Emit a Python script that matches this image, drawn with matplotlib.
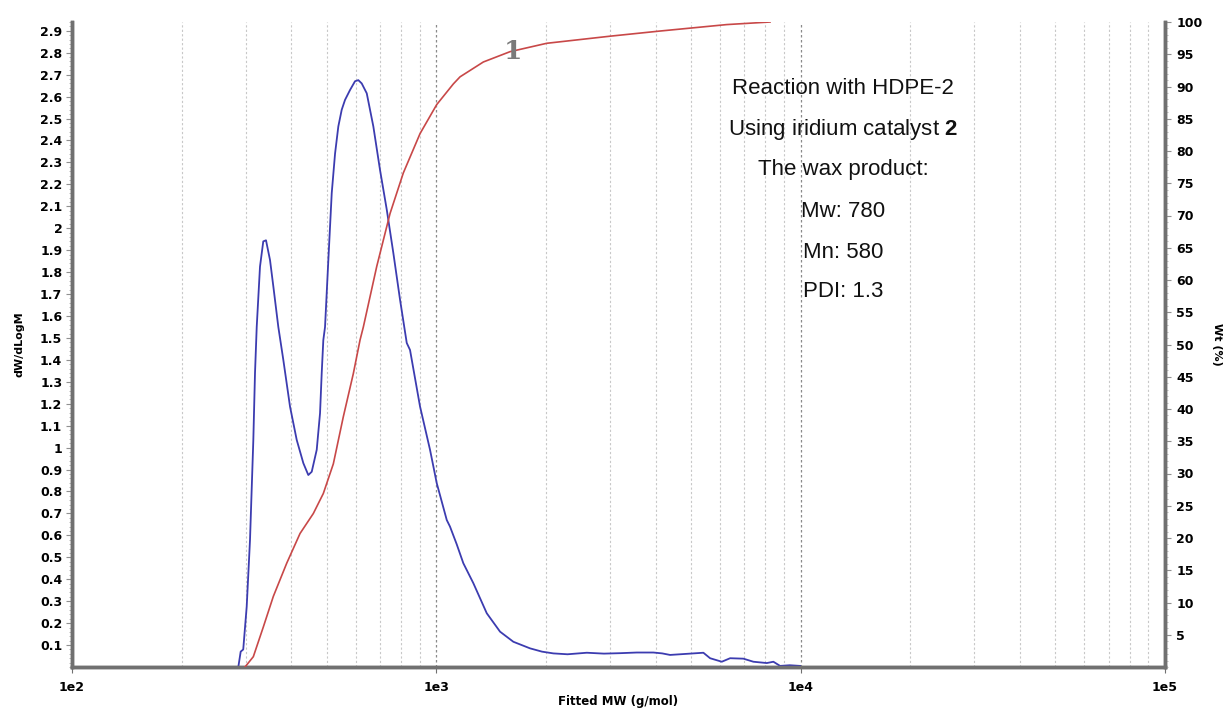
import numpy as np
import matplotlib
matplotlib.use("Agg")
import matplotlib.pyplot as plt
from matplotlib.ticker import FixedLocator, MultipleLocator, NullLocator

plt.rcParams["mathtext.fontset"] = "custom"
plt.rcParams["mathtext.rm"] = "Liberation Sans"
plt.rcParams["mathtext.bf"] = "Liberation Sans:bold"

# Molecular-weight distribution (dW/dLogM) versus log10(MW)
dist_logm = [2.4565, 2.463, 2.470, 2.4795, 2.4886, 2.4977, 2.5023, 2.507, 2.516, 2.525,
             2.5325, 2.5435, 2.5526, 2.5663, 2.580, 2.5984, 2.6168, 2.635, 2.6486, 2.658,
             2.6717, 2.6808, 2.6854, 2.6898, 2.6945, 2.7036, 2.7129, 2.722, 2.731, 2.7403,
             2.7494, 2.7631, 2.7768, 2.7859, 2.7952, 2.809, 2.8271, 2.8455, 2.8639, 2.882,
             2.9004, 2.9188, 2.9278, 2.9553, 2.9827, 3.0011, 3.0286, 3.0375, 3.0558, 3.0741,
             3.1016, 3.1384, 3.1749, 3.2114, 3.2572, 3.2900, 3.3212, 3.3600, 3.4129, 3.4600,
             3.5043, 3.5500, 3.5957, 3.6200, 3.6415, 3.6874, 3.7330, 3.7514, 3.7835, 3.8063,
             3.8428, 3.8702, 3.9070, 3.9251, 3.9435, 3.9700, 3.9984]
dist_vals = [0.0, 0.07, 0.08, 0.275, 0.58, 1.035, 1.34, 1.55, 1.825, 1.94,
             1.945, 1.855, 1.735, 1.55, 1.40, 1.187, 1.035, 0.929, 0.875, 0.89,
             0.99, 1.157, 1.34, 1.49, 1.55, 1.855, 2.16, 2.34, 2.464, 2.54,
             2.585, 2.63, 2.67, 2.675, 2.66, 2.615, 2.464, 2.265, 2.085, 1.887,
             1.674, 1.477, 1.445, 1.187, 0.99, 0.838, 0.67, 0.64, 0.56, 0.473,
             0.382, 0.245, 0.161, 0.115, 0.085, 0.07, 0.062, 0.058, 0.065, 0.061,
             0.063, 0.066, 0.066, 0.062, 0.055, 0.06, 0.065, 0.04, 0.024, 0.04,
             0.038, 0.024, 0.018, 0.024, 0.005, 0.008, 0.005]

# Cumulative weight fraction (%) versus log10(MW)
cum_logm = [2.4749, 2.4977, 2.5251, 2.5526, 2.5894, 2.6259, 2.6624, 2.6898, 2.7173, 2.7447,
            2.7722, 2.7906, 2.7996, 2.8364, 2.8729, 2.9094, 2.9553, 3.0011, 3.0467, 3.0651,
            3.1290, 3.2023, 3.3031, 3.4768, 3.6141, 3.7972, 3.9160]
cum_vals = [0.0, 1.6, 6.2, 10.95, 16.1, 20.7, 23.8, 26.9, 31.5, 38.8,
            45.5, 50.7, 52.7, 62.1, 70.3, 76.6, 82.7, 87.2, 90.4, 91.5,
            93.8, 95.4, 96.7, 97.8, 98.6, 99.6, 100.0]

left_ticks = [round(0.1 * i, 1) for i in range(1, 30)]
left_labels = [f"{v:g}" for v in left_ticks]
right_ticks = list(range(5, 101, 5))
x_ticks = [1e2, 1e3, 1e4, 1e5]
x_labels = ["1e2", "1e3", "1e4", "1e5"]

info_lines = ["Reaction with HDPE-2",
              r"Using iridium catalyst $\mathbf{2}$",
              "The wax product:",
              "Mw: 780",
              "Mn: 580",
              "PDI: 1.3"]

W, H = 1229, 713
fig = plt.figure(figsize=(W / 100, H / 100), dpi=100)
ax = fig.add_axes([72 / W, 46 / H, (1165 - 72) / W, (667 - 22) / H])
ax2 = ax.twinx()

spine_col = "#707070"
tick_font = dict(family="DejaVu Sans", weight="bold", size=9)

ax.set_xscale("log")
ax.set_xlim(1e2, 1e5)
ax.set_ylim(0, 2.94)
ax2.set_ylim(0, 100)

# vertical grid lines at every log step
for dec in (1e2, 1e3, 1e4):
    for k in range(2, 10):
        ax.axvline(k * dec, color="#c8c8c8", lw=0.8, ls=(0, (2, 2)), zorder=0)
for dec in (1e3, 1e4):
    ax.axvline(dec, color="#8a8a8a", lw=0.9, ls=(0, (2, 2)), zorder=0)

ax.plot(10 ** np.array(dist_logm), dist_vals, color="#3c3cb0", lw=1.3, zorder=3)
ax2.plot(10 ** np.array(cum_logm), cum_vals, color="#c84848", lw=1.2, zorder=3)

# axes styling
for a in (ax, ax2):
    a.spines["top"].set_visible(False)
    for s in ("left", "right", "bottom"):
        a.spines[s].set_color(spine_col)
        a.spines[s].set_linewidth(2.5)

ax.xaxis.set_major_locator(FixedLocator(x_ticks))
ax.xaxis.set_minor_locator(NullLocator())
ax.set_xticklabels(x_labels, **tick_font)
ax.tick_params(axis="x", length=4, color=spine_col, pad=6)

ax.yaxis.set_major_locator(FixedLocator(left_ticks))
ax.set_yticklabels(left_labels, **tick_font)
ax.yaxis.set_minor_locator(MultipleLocator(0.02))
ax.tick_params(axis="y", which="major", length=4, color="#909090", pad=3)
ax.tick_params(axis="y", which="minor", length=2, color="#b0b0b0")

ax2.yaxis.set_major_locator(FixedLocator(right_ticks))
ax2.set_yticklabels([str(v) for v in right_ticks], **tick_font)
ax2.yaxis.set_minor_locator(MultipleLocator(1))
ax2.tick_params(axis="y", which="major", length=4, color="#909090", pad=4)
ax2.tick_params(axis="y", which="minor", length=2, color="#b0b0b0")

ax.set_xlabel("Fitted MW (g/mol)", fontsize=8.5, fontweight="bold", labelpad=1)
ax.set_ylabel("dW/dLogM", fontsize=8, fontweight="bold", labelpad=11)
ax2.set_ylabel("Wt (%)", fontsize=8, fontweight="bold", rotation=270, labelpad=14)

# curve identifier on the cumulative trace
ax2.text(10 ** 3.2106, 95.4, "1", fontsize=19, color="#7a7a7a", fontweight="bold",
         family="DejaVu Serif", ha="center", va="center", zorder=4)

# sample information block
y_pix = [89, 130, 170, 211, 252, 291]
for line, yp in zip(info_lines, y_pix):
    fig.text(843 / W, 1 - yp / H, line, fontsize=16, family="Liberation Sans",
             ha="center", va="center", color="#111111")

fig.savefig("out.png", dpi=100)
